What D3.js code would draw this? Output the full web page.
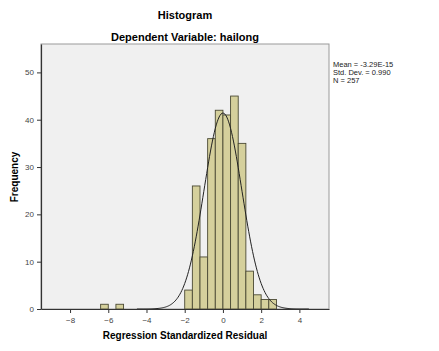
<!DOCTYPE html>
<html>
<head>
<meta charset="utf-8">
<script src="https://cdn.jsdelivr.net/npm/d3@7"></script>
<style>
  body { margin: 0; background: #fff; }
  text { font-family: Arial, "Liberation Sans", sans-serif; }
</style>
</head>
<body>
<div id="chart"></div>
<script>
// histogram bins (lower edge, upper edge) and counts
const binStarts = [-6.4, -5.6, -2.0, -1.6, -1.2, -0.8, -0.4, 0.0, 0.4, 0.8, 1.2, 1.6, 2.0, 2.4];
const binWidth = 0.4;
const counts = [1, 1, 4, 26, 11, 36, 42, 41, 45, 35, 8, 3, 2, 2];
const xTicks = [-8, -6, -4, -2, 0, 2, 4];
const yTicks = [0, 10, 20, 30, 40, 50];

// summary stats shown at the right
const mean = -3.29e-15;
const stdDev = 0.990;
const nCases = 257;
const statLines = ["Mean = -3.29E-15", "Std. Dev. = 0.990", "N = 257"];

const width = 439, height = 351;
const margin = {top: 44, right: 110, bottom: 42, left: 41};
const innerW = width - margin.left - margin.right;
const innerH = height - margin.top - margin.bottom;

const svg = d3.select("#chart").append("svg")
    .attr("width", width)
    .attr("height", height);

// titles
svg.append("text")
    .attr("x", 185).attr("y", 19)
    .attr("text-anchor", "middle")
    .style("font-size", "11px").style("font-weight", "bold")
    .text("Histogram");

svg.append("text")
    .attr("x", 185).attr("y", 41)
    .attr("text-anchor", "middle")
    .style("font-size", "11px").style("font-weight", "bold")
    .text("Dependent Variable: hailong");

const g = svg.append("g")
    .attr("transform", `translate(${margin.left},${margin.top})`);

const x = d3.scaleLinear().domain([-9.52, 5.55]).range([0, innerW]);
const y = d3.scaleLinear().domain([0, 56]).range([innerH, 0]);

// plot background
g.append("rect")
    .attr("width", innerW).attr("height", innerH)
    .attr("fill", "#f0f0f0")
    .attr("stroke", "#9a9a9a")
    .attr("stroke-width", 1);

// bars
g.selectAll(".bar")
    .data(binStarts.map((s, i) => ({start: s, count: counts[i]})))
    .enter()
    .append("rect")
    .attr("class", "bar")
    .attr("x", d => x(d.start))
    .attr("y", d => y(d.count))
    .attr("width", d => x(d.start + binWidth) - x(d.start))
    .attr("height", d => y(0) - y(d.count))
    .attr("fill", "#d5d09c")
    .attr("stroke", "#4b4a34")
    .attr("stroke-width", 0.9);

// normal curve from the stats above
const scale = nCases * binWidth;
const curve = d3.range(-4.5, 4.501, 0.05).map(v => {
    const z = (v - mean) / stdDev;
    return [v, scale * Math.exp(-0.5 * z * z) / (stdDev * Math.sqrt(2 * Math.PI))];
});

g.append("path")
    .datum(curve)
    .attr("fill", "none")
    .attr("stroke", "#222")
    .attr("stroke-width", 1)
    .attr("d", d3.line().x(d => x(d[0])).y(d => y(d[1])).curve(d3.curveBasis));

// axes
const xAxis = g.append("g")
    .attr("transform", `translate(0,${innerH})`)
    .call(d3.axisBottom(x).tickValues(xTicks).tickSize(4).tickSizeOuter(0));
const yAxis = g.append("g")
    .call(d3.axisLeft(y).tickValues(yTicks).tickSize(4).tickSizeOuter(0));

[xAxis, yAxis].forEach(a => {
    a.select(".domain").attr("stroke", "#333").attr("stroke-width", 1.2);
    a.selectAll(".tick line").attr("stroke", "#333");
    a.selectAll(".tick text")
        .style("font-size", "8px")
        .attr("fill", "#444")
        .style("font-family", "Arial, 'Liberation Sans', sans-serif");
});
xAxis.selectAll(".tick text").attr("dy", "0.9em");

// axis labels
svg.append("text")
    .attr("x", 185).attr("y", 339)
    .attr("text-anchor", "middle")
    .style("font-size", "10px").style("font-weight", "bold")
    .text("Regression Standardized Residual");

svg.append("text")
    .attr("transform", "translate(18,177) rotate(-90)")
    .attr("text-anchor", "middle")
    .style("font-size", "10px").style("font-weight", "bold")
    .text("Frequency");

// stats box text
svg.selectAll(".stat")
    .data(statLines)
    .enter()
    .append("text")
    .attr("class", "stat")
    .attr("x", 333)
    .attr("y", (d, i) => 67 + i * 8)
    .style("font-size", "7.5px")
    .attr("fill", "#222")
    .text(d => d);
</script>
</body>
</html>
